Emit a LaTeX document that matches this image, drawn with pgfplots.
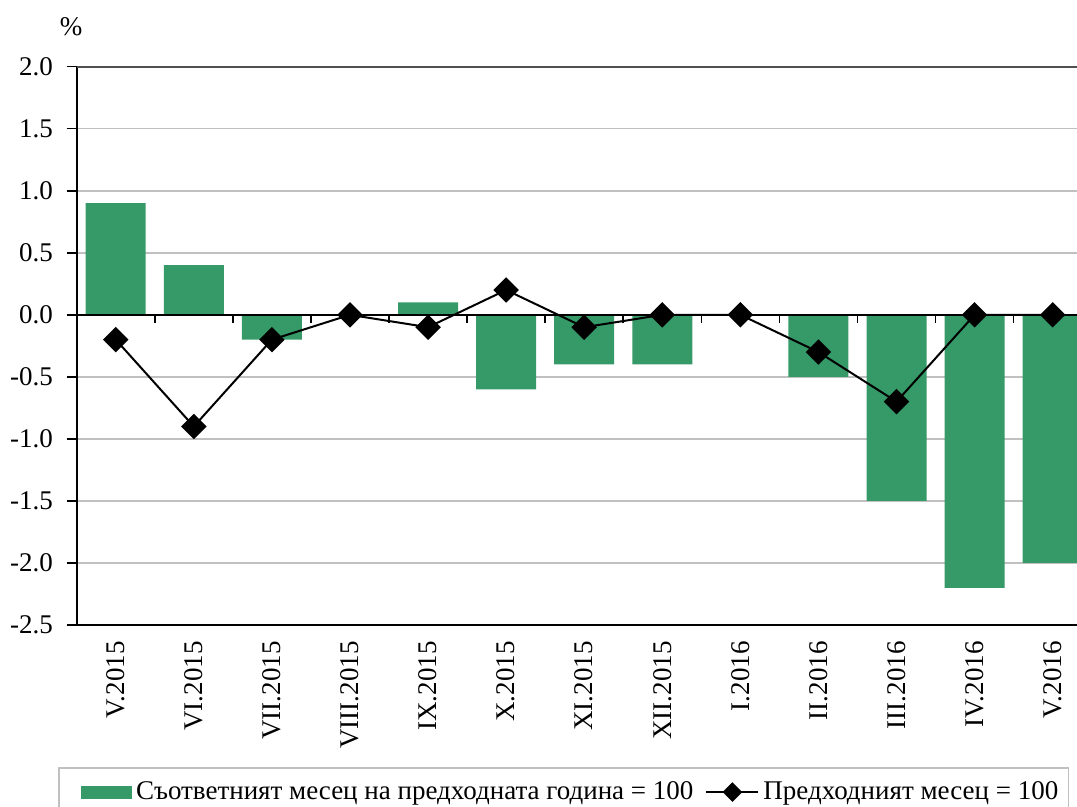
\documentclass[border=0pt]{standalone}
\usepackage{fontspec}
\setmainfont{Liberation Serif}
\usepackage{pgfplots}
\pgfplotsset{compat=1.18}
\definecolor{barg}{RGB}{53,153,104}
\definecolor{gridg}{RGB}{192,192,192}
\definecolor{topg}{RGB}{80,80,80}
\begin{document}
\fontsize{13.5pt}{16pt}\selectfont
\begin{tikzpicture}[font=\fontsize{13.5pt}{16pt}\selectfont]
\useasboundingbox (-38.35pt,-91pt) rectangle (500.15pt,312.5pt);
\begin{axis}[
  at={(0pt,0pt)}, anchor=south west,
  scale only axis, width=507.5pt, height=279.15pt,
  xmin=-0.5, xmax=12.5, ymin=-2.5, ymax=2,
  axis lines=left, axis line style={-, black, line width=0.9pt},
  ytick={-2.5,-2,-1.5,-1,-0.5,0,0.5,1,1.5,2},
  yticklabels={-2.5,-2.0,-1.5,-1.0,-0.5,0.0,0.5,1.0,1.5,2.0},
  xtick={0,1,2,3,4,5,6,7,8,9,10,11,12},
  xticklabels={V.2015,VI.2015,VII.2015,VIII.2015,IX.2015,X.2015,XI.2015,XII.2015,I.2016,II.2016,III.2016,IV.2016,V.2016},
  ymajorgrids, grid style={gridg, line width=0.75pt},
  tick align=outside, major tick length=5pt,
  y tick style={black, line width=0.75pt},
  x tick style={draw=none},
  yticklabel style={inner sep=0pt, xshift=-6.7pt, font=\fontsize{13.5pt}{16pt}\selectfont},
  xticklabel style={yshift=-3pt, rotate=90, anchor=east, inner sep=0pt, font=\fontsize{13.5pt}{16pt}\selectfont},
  legend style={at={(rel axis cs:0,0)}, anchor=north west, xshift=-9.2pt, yshift=-71.15pt,
    legend columns=2, draw=gridg, line width=0.75pt, inner ysep=4.5pt,
    font=\fontsize{13.5pt}{16pt}\selectfont,
    /tikz/every even column/.append style={column sep=4pt}},
  clip=false,
]
\addplot[ybar, bar width=30pt, fill=barg, draw=none,
  legend image code/.code={\path (0pt,0pt); \fill[barg] (8pt,-3.25pt) rectangle (33.5pt,3.25pt);}]
  coordinates {(0,0.9) (1,0.4) (2,-0.2) (3,0) (4,0.1) (5,-0.6) (6,-0.4) (7,-0.4) (8,0) (9,-0.5) (10,-1.5) (11,-2.2) (12,-2.0)};
\addlegendentry{Съответният месец на предходната година = 100}
\draw[topg, line width=0.9pt] (rel axis cs:0,1) -- (rel axis cs:1,1);
\draw[black, line width=0.9pt] (axis cs:-0.5,0) -- (axis cs:12.5,0);
\pgfplotsinvokeforeach{0.5,1.5,2.5,3.5,4.5,5.5,6.5,7.5,8.5,9.5,10.5,11.5}{
  \draw[black, line width=0.75pt] (axis cs:#1,0) -- ++(0pt,-4pt);
}
\addplot[black, line width=1pt, mark=square*, mark size=4pt, mark options={rotate=45, solid, fill=black},
  legend image code/.code={\draw[black, line width=1pt] (0pt,0pt) -- (26pt,0pt);
    \fill[black] (13pt,4.2pt) -- (17.2pt,0pt) -- (13pt,-4.2pt) -- (8.8pt,0pt) -- cycle;}]
  coordinates {(0,-0.2) (1,-0.9) (2,-0.2) (3,0) (4,-0.1) (5,0.2) (6,-0.1) (7,0) (8,0) (9,-0.3) (10,-0.7) (11,0) (12,0)};
\addlegendentry{Предходният месец = 100}
\node at (rel axis cs:0,1) [xshift=-2.85pt, yshift=19.85pt] {\%};
\end{axis}
\end{tikzpicture}
\end{document}
